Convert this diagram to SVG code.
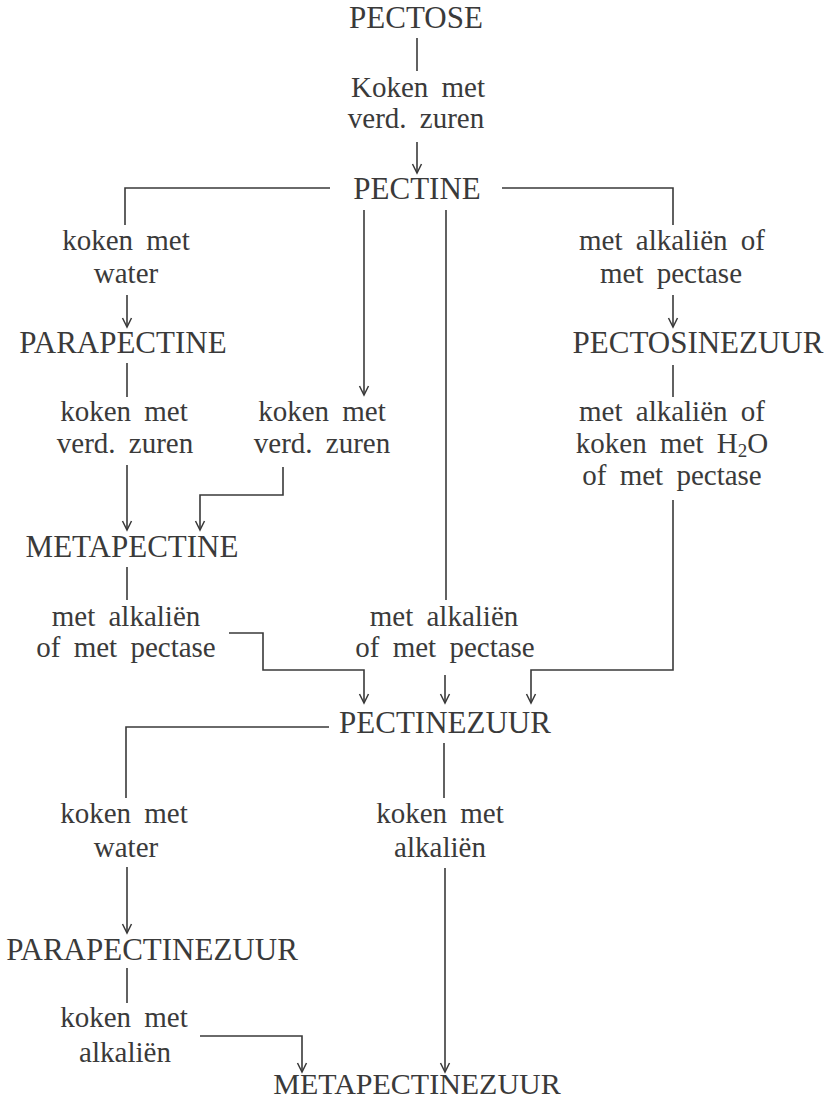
<svg xmlns="http://www.w3.org/2000/svg" width="838" height="1101" viewBox="0 0 838 1101">
<style>
.n{font-family:"Liberation Serif",serif;font-size:31px;fill:#3a3a3a;text-anchor:middle}
.l{font-family:"Liberation Serif",serif;font-size:29px;fill:#3a3a3a;text-anchor:middle;word-spacing:6px}
.c{fill:none;stroke:#3a3a3a;stroke-width:1.6}
</style>
<defs>
<marker id="a" viewBox="-10 -6 12 12" refX="0" refY="0" markerWidth="12" markerHeight="12" markerUnits="userSpaceOnUse" orient="auto">
<path d="M-9,-4.5 L0,0 L-9,4.5" fill="none" stroke="#3a3a3a" stroke-width="1.5"/>
</marker>
</defs>
<rect width="838" height="1101" fill="#ffffff"/>
<g id="connectors">
<line class="c" x1="417" y1="38" x2="417" y2="71"/>
<line class="c" x1="417" y1="142" x2="417" y2="173" marker-end="url(#a)"/>
<polyline class="c" points="330,188 125,188 125,225"/>
<line class="c" x1="127" y1="295" x2="127" y2="327" marker-end="url(#a)"/>
<line class="c" x1="127" y1="363" x2="127" y2="397"/>
<line class="c" x1="127" y1="465" x2="127" y2="530" marker-end="url(#a)"/>
<line class="c" x1="364" y1="210" x2="364" y2="395" marker-end="url(#a)"/>
<polyline class="c" points="283,467 283,495 200,495 200,530" marker-end="url(#a)"/>
<line class="c" x1="127" y1="567" x2="127" y2="600"/>
<polyline class="c" points="229,633 263,633 263,670 364,670 364,703" marker-end="url(#a)"/>
<line class="c" x1="446" y1="210" x2="446" y2="600"/>
<line class="c" x1="445" y1="675" x2="445" y2="703" marker-end="url(#a)"/>
<polyline class="c" points="502,188 673,188 673,225"/>
<line class="c" x1="673" y1="295" x2="673" y2="327" marker-end="url(#a)"/>
<line class="c" x1="673" y1="365" x2="673" y2="397"/>
<polyline class="c" points="673,500 673,670 531,670 531,703" marker-end="url(#a)"/>
<polyline class="c" points="329,727 126,727 126,798"/>
<line class="c" x1="444" y1="743" x2="444" y2="798"/>
<line class="c" x1="127" y1="867" x2="127" y2="933" marker-end="url(#a)"/>
<line class="c" x1="127" y1="968" x2="127" y2="1003"/>
<polyline class="c" points="200,1036 302,1036 302,1072" marker-end="url(#a)"/>
<line class="c" x1="445" y1="868" x2="445" y2="1072" marker-end="url(#a)"/>
</g>
<g id="labels">
<text class="l" x="418" y="97">Koken met</text>
<text class="l" x="416" y="128">verd. zuren</text>
<text class="l" x="126" y="250">koken met</text>
<text class="l" x="126" y="283">water</text>
<text class="l" x="124" y="421">koken met</text>
<text class="l" x="125" y="453">verd. zuren</text>
<text class="l" x="322" y="421">koken met</text>
<text class="l" x="322" y="453">verd. zuren</text>
<text class="l" x="126" y="626">met alkaliën</text>
<text class="l" x="126" y="657">of met pectase</text>
<text class="l" x="444" y="626">met alkaliën</text>
<text class="l" x="445" y="657">of met pectase</text>
<text class="l" x="672" y="250">met alkaliën of</text>
<text class="l" x="671" y="283">met pectase</text>
<text class="l" x="672" y="421">met alkaliën of</text>
<text class="l" x="672" y="453">koken met H<tspan font-size="19" dy="4">2</tspan><tspan dy="-4">O</tspan></text>
<text class="l" x="672" y="485">of met pectase</text>
<text class="l" x="124" y="823">koken met</text>
<text class="l" x="126" y="857">water</text>
<text class="l" x="440" y="823">koken met</text>
<text class="l" x="440" y="857">alkaliën</text>
<text class="l" x="124" y="1027">koken met</text>
<text class="l" x="125" y="1062">alkaliën</text>
</g>
<g id="pectose"><text class="n" x="416" y="28">PECTOSE</text></g>
<g id="pectine"><text class="n" x="417" y="199">PECTINE</text></g>
<g id="parapectine"><text class="n" x="123" y="353">PARAPECTINE</text></g>
<g id="pectosinezuur"><text class="n" x="698" y="353">PECTOSINEZUUR</text></g>
<g id="metapectine"><text class="n" x="132" y="557">METAPECTINE</text></g>
<g id="pectinezuur"><text class="n" x="445" y="733">PECTINEZUUR</text></g>
<g id="parapectinezuur"><text class="n" x="152" y="960">PARAPECTINEZUUR</text></g>
<g id="metapectinezuur"><text class="n" x="417" y="1094" style="font-size:30px">METAPECTINEZUUR</text></g>
</svg>
